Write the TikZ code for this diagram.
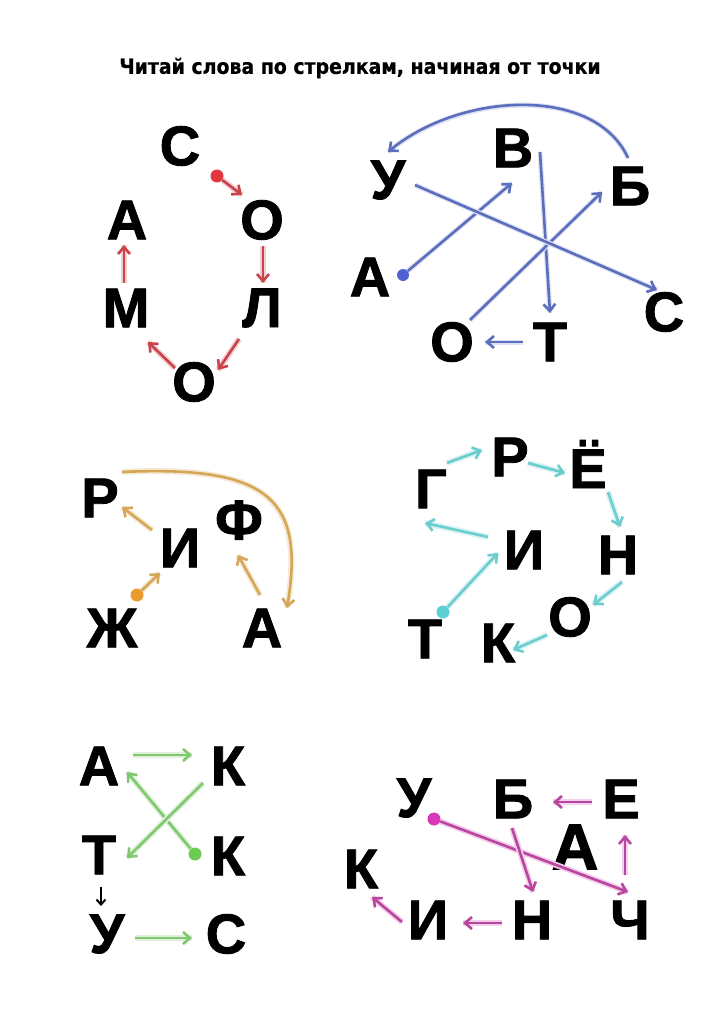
\documentclass[tikz,border=0pt]{standalone}
\usepackage{fontspec}
\setmainfont{Liberation Sans}
\newfontfamily\titlefont{DejaVu Sans Bold}[FakeBold=0.6, FakeStretch=0.9]
\newfontfamily\letterfam{Liberation Sans Bold}[FakeBold=1.6]
\usepackage{xcolor}
\usepackage{tikz}
\usetikzlibrary{arrows.meta}
\usetikzlibrary{calc}
\definecolor{Cred}{HTML}{C9434C}
\definecolor{Dred}{HTML}{E3363F}
\definecolor{Cblue}{HTML}{5B6EBE}
\definecolor{Dblue}{HTML}{4F62D2}
\definecolor{Corange}{HTML}{D6A657}
\definecolor{Dorange}{HTML}{E99B2E}
\definecolor{Ccyan}{HTML}{6CCDCF}
\definecolor{Dcyan}{HTML}{58D0D6}
\definecolor{Cgreen}{HTML}{80C86E}
\definecolor{Dgreen}{HTML}{6CCB52}
\definecolor{Cpink}{HTML}{B7469E}
\definecolor{Dpink}{HTML}{D837B6}
\newcommand\letterfont{\letterfam\fontsize{56}{56}\selectfont}
\tikzstyle{letter} = [inner sep=0pt, font=\letterfont]
\tikzstyle{dot} = [circle, inner sep=0pt, minimum size=13pt]
\tikzstyle{arrow} = [line width=2.6pt, -{Straight Barb[length=7pt,width=12pt]}]
\tikzstyle{redarr} = [arrow, draw=Cred, preaction={draw=Cred!25, line width=6pt, -}]
\tikzstyle{bluearr} = [arrow, draw=Cblue, preaction={draw=Cblue!20, line width=5pt, -}]
\tikzstyle{orangearr} = [arrow, draw=Corange, preaction={draw=Corange!25, line width=6pt, -}]
\tikzstyle{cyanarr} = [arrow, draw=Ccyan, preaction={draw=Ccyan!25, line width=6pt, -}]
\tikzstyle{greenarr} = [arrow, draw=Cgreen, preaction={draw=Cgreen!25, line width=6pt, -}]
\tikzstyle{pinkarr} = [arrow, draw=Cpink, preaction={draw=Dpink!25, line width=6pt, -}]

\begin{document}
\begin{tikzpicture}[x=1pt, y=-1pt]
	\fill[white] (0,0) rectangle (720,1019) ;
	\useasboundingbox (0,0) rectangle (720,1019) ;
	
	\node[font=\titlefont\fontsize{21}{21}\selectfont] (title) at (360,68) {Читай слова по стрелкам, начиная от точки} ;
	
	% red
	\foreach \n/\x/\y/\t in {s1/180/146/С, o1/262/220/О, l1/262/308/Л, o2/194/382/О, m1/126/308/М, a1/127/220/А}
	{
		\node[letter] (\n) at (\x, \y) {\t} ;
	}
	\node[dot, fill=Dred] (d1) at (217,176) {} ;
	\draw[redarr] (d1) -- ($(o1)+(-20,-25)$) ;
	\draw[redarr] ($(o1)+(1,26)$) -- ($(l1)+(1,-25)$) ;
	\draw[redarr] ($(l1)+(-23,31)$) -- ($(o2)+(24,-12)$) ;
	\draw[redarr] ($(o2)+(-19,-14)$) -- ($(m1)+(22,34)$) ;
	\draw[redarr] ($(m1)+(-2,-25)$) -- ($(a1)+(-3,25)$) ;
	
	% blue
	\foreach \n/\x/\y/\t in {a2/370/277/А, v2/513/148/В, t2/550/342/Т, o3/452/342/О, b2/630/186/Б, u2/388/180/У, s2/664/312/С}
	{
		\node[letter] (\n) at (\x, \y) {\t} ;
	}
	\node[dot, fill=Dblue, minimum size=12pt] (d2) at (403,275) {} ;
	\draw[bluearr] (d2) -- ($(v2)+(-1,35)$) ;
	\draw[bluearr] ($(v2)+(27,4)$) -- ($(t2)+(0,-29)$) ;
	\draw[bluearr] ($(t2)+(-27,0)$) -- ($(o3)+(33,0)$) ;
	\draw[bluearr] ($(o3)+(18,-22)$) -- ($(b2)+(-28,6)$) ;
	\draw[bluearr] ($(b2)+(-2,-28)$) .. controls (595,85) and (460,92) .. ($(u2)+(0,-28)$) ;
	\draw[bluearr] ($(u2)+(27,5)$) -- ($(s2)+(-7,-22)$) ;
	
	% orange
	\foreach \n/\x/\y/\t in {zh/112/628/Ж, i3/180/548/И, r3/100/498/Р, a3/262/628/А, f3/239/520/Ф}
	{
		\node[letter] (\n) at (\x, \y) {\t} ;
	}
	\node[dot, fill=Dorange] (d3) at (137,595) {} ;
	\draw[orangearr] (d3) -- ($(i3)+(-20,25)$) ;
	\draw[orangearr] ($(i3)+(-28,-18)$) -- ($(r3)+(22,9)$) ;
	\draw[orangearr] ($(r3)+(22,-26)$) .. controls (270,465) and (305,500) .. ($(a3)+(25,-20)$) ;
	\draw[orangearr] ($(a3)+(-2,-33)$) -- ($(f3)+(-1,35)$) ;
	
	% cyan
	\foreach \n/\x/\y/\t in {t4/425/639/Т, i4/524/550/И, g4/431/489/Г, r4/510/457/Р, n4/618/555/Н, o4/570/617/О, k4/498/643/К}
	{
		\node[letter] (\n) at (\x, \y) {\t} ;
	}
	\node[letter, anchor=base] (e4) at (588,488) {Ё} ;
	\node[dot, fill=Dcyan] (d4) at (443,612) {} ;
	\draw[cyanarr] (d4) -- ($(i4)+(-26,3)$) ;
	\draw[cyanarr] ($(i4)+(-36,-13)$) -- ($(g4)+(-6,34)$) ;
	\draw[cyanarr] ($(g4)+(16,-26)$) -- ($(r4)+(-28,-7)$) ;
	\draw[cyanarr] ($(r4)+(18,6)$) -- ($(e4.base)+(-23,-15)$) ;
	\draw[cyanarr] ($(e4.base)+(20,4)$) -- ($(n4)+(2,-28)$) ;
	\draw[cyanarr] ($(n4)+(4,27)$) -- ($(o4)+(23,-12)$) ;
	\draw[cyanarr] ($(o4)+(-23,18)$) -- ($(k4)+(15,7)$) ;
	
	% green
	\foreach \n/\x/\y/\t in {k5/228/856/К, a5/99/766/А, k6/228/766/К, t5/99/855/Т, u5/107/934/У, c5/226/934/С}
	{
		\node[letter] (\n) at (\x, \y) {\t} ;
	}
	\node[dot, fill=Dgreen] (d5) at (195,854) {} ;
	\draw[greenarr] (d5) -- ($(a5)+(28,6)$) ;
	\draw[greenarr] ($(a5)+(34,-11)$) -- ($(k6)+(-36,-11)$) ;
	\draw[greenarr] ($(k6)+(-25,17)$) -- ($(t5)+(28,3)$) ;
	\draw[line width=2pt, -{Straight Barb[length=5pt,width=9pt]}] ($(t5)+(2,32)$) -- ($(u5)+(-6,-28)$) ;
	\draw[greenarr] ($(u5)+(28,4)$) -- ($(c5)+(-34,4)$) ;
	
	% pink
	\foreach \n/\x/\y/\t in {u6/414/798/У, c6/630/920/Ч, e6/621/799/Е, b6/513/799/Б, n6/532/920/Н, i6/428/920/И, k7/361/869/К}
	{
		\node[letter] (\n) at (\x, \y) {\t} ;
	}
	\node[letter, font=\letterfam\fontsize{65}{65}\selectfont] (a6) at (575,847) {А} ;
	\node[dot, fill=Dpink] (d6) at (434,819) {} ;
	\draw[pinkarr] (d6) -- ($(c6)+(-2,-28)$) ;
	\draw[pinkarr] ($(c6)+(-5,-45)$) -- ($(e6)+(4,36)$) ;
	\draw[pinkarr] ($(e6)+(-29,3)$) -- ($(b6)+(40,3)$) ;
	\draw[pinkarr] ($(b6)+(-1,29)$) -- ($(n6)+(1,-28)$) ;
	\draw[pinkarr] ($(n6)+(-30,3)$) -- ($(i6)+(35,3)$) ;
	\draw[pinkarr] ($(i6)+(-26,2)$) -- ($(k7)+(11,28)$) ;
\end{tikzpicture}
\end{document}
